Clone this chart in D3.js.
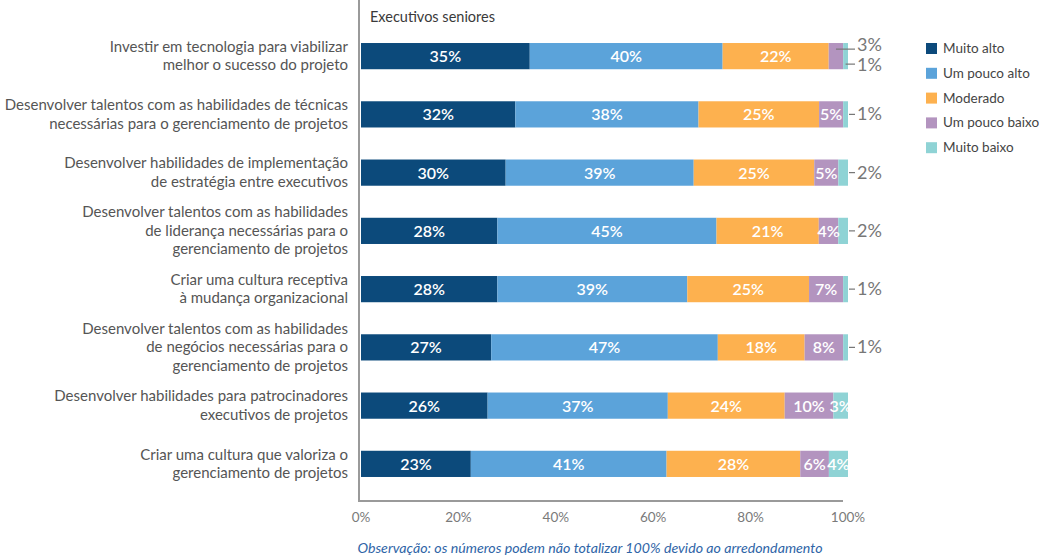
<!DOCTYPE html>
<html>
<head>
<meta charset="utf-8">
<script src="https://cdn.jsdelivr.net/npm/d3@7"></script>
<style>
  body { margin: 0; background: #fff; }
  svg { font-family: Lato, "Open Sans", sans-serif; }
</style>
</head>
<body>
<svg width="1041" height="560"></svg>
<script>
// Data
var categories = [
    ['Investir em tecnologia para viabilizar', 'melhor o sucesso do projeto'],
    ['Desenvolver talentos com as habilidades de técnicas', 'necessárias para o gerenciamento de projetos'],
    ['Desenvolver habilidades de implementação', 'de estratégia entre executivos'],
    ['Desenvolver talentos com as habilidades', 'de liderança necessárias para o', 'gerenciamento de projetos'],
    ['Criar uma cultura receptiva', 'à mudança organizacional'],
    ['Desenvolver talentos com as habilidades', 'de negócios necessárias para o', 'gerenciamento de projetos'],
    ['Desenvolver habilidades para patrocinadores', 'executivos de projetos'],
    ['Criar uma cultura que valoriza o', 'gerenciamento de projetos']
];
var seriesNames = ['Muito alto', 'Um pouco alto', 'Moderado', 'Um pouco baixo', 'Muito baixo'];
var muitoAlto    = [35, 32, 30, 28, 28, 27, 26, 23];
var umPoucoAlto  = [40, 38, 39, 45, 39, 47, 37, 41];
var moderado     = [22, 25, 25, 21, 25, 18, 24, 28];
var umPoucoBaixo = [3, 5, 5, 4, 7, 8, 10, 6];
var muitoBaixo   = [1, 1, 2, 2, 1, 1, 3, 4];
// which series labels sit outside the bar, per row
var outsideLabels = [[3, 4], [4], [4], [4], [4], [4], [], []];
var xTickValues = [0, 20, 40, 60, 80, 100];
var title = 'Executivos seniores';
var note = 'Observação: os números podem não totalizar 100% devido ao arredondamento';

var colors = ['#0c4a7b', '#5ba3da', '#fdb14f', '#b394bf', '#8fd3d5'];
var series = [muitoAlto, umPoucoAlto, moderado, umPoucoBaixo, muitoBaixo];

var svg = d3.select('svg');

var x = d3.scaleLinear().domain([0, 100]).range([361, 848]);
var y = d3.scaleBand()
    .domain(d3.range(categories.length))
    .range([27, 493])
    .paddingInner(0.55)
    .paddingOuter(0.275);
var color = d3.scaleOrdinal().domain(seriesNames).range(colors);

// Build rows of normalized segments
var rows = categories.map(function(c, i) {
    var vals = series.map(function(s) { return s[i]; });
    var total = d3.sum(vals);
    var acc = 0;
    var segs = vals.map(function(v, k) {
        var s = {row: i, k: k, value: v, x0: acc / total * 100, x1: (acc + v) / total * 100};
        acc += v;
        return s;
    });
    return {index: i, label: c, segs: segs};
});

// Axis frame
svg.append('line')
    .attr('x1', 359).attr('x2', 359)
    .attr('y1', 0).attr('y2', 501)
    .attr('stroke', '#9a9a9a').attr('stroke-width', 2);
svg.append('line')
    .attr('x1', 358).attr('x2', x(100) - 5)
    .attr('y1', 501).attr('y2', 501)
    .attr('stroke', '#9a9a9a').attr('stroke-width', 2);

// Tick labels
svg.selectAll('.tick-label')
    .data(xTickValues)
    .enter().append('text')
    .attr('class', 'tick-label')
    .attr('x', function(d) { return x(d); })
    .attr('y', 522)
    .attr('text-anchor', 'middle')
    .attr('fill', '#7a7a7a')
    .attr('font-size', 13.5)
    .text(function(d) { return d + '%'; });

// Title
svg.append('text')
    .attr('x', 370).attr('y', 22)
    .attr('fill', '#3a3a3a')
    .attr('font-size', 14.5)
    .text(title);

// Category labels
var catG = svg.selectAll('.cat')
    .data(rows)
    .enter().append('text')
    .attr('class', 'cat')
    .attr('text-anchor', 'end')
    .attr('fill', '#555')
    .attr('font-size', 15);
catG.selectAll('tspan')
    .data(function(d) {
        var n = d.label.length;
        var cy = y(d.index) + y.bandwidth() / 2;
        return d.label.map(function(l, j) { return {text: l, y: cy + (j - (n - 1) / 2) * 18.5 + 5}; });
    })
    .enter().append('tspan')
    .attr('x', 348)
    .attr('y', function(d) { return d.y; })
    .text(function(d) { return d.text; });

// Bars
var rowG = svg.selectAll('.row')
    .data(rows)
    .enter().append('g')
    .attr('class', 'row')
    .attr('transform', function(d) { return 'translate(0,' + y(d.index) + ')'; });

rowG.selectAll('rect')
    .data(function(d) { return d.segs; })
    .enter().append('rect')
    .attr('x', function(d) { return x(d.x0); })
    .attr('width', function(d) { return x(d.x1) - x(d.x0); })
    .attr('height', y.bandwidth())
    .attr('fill', function(d) { return colors[d.k]; });

// Inside labels
rowG.selectAll('.in-label')
    .data(function(d) {
        return d.segs.filter(function(s) { return outsideLabels[d.index].indexOf(s.k) < 0; });
    })
    .enter().append('text')
    .attr('class', 'in-label')
    .attr('x', function(d) { return (x(d.x0) + x(d.x1)) / 2; })
    .attr('y', y.bandwidth() / 2 + 6)
    .attr('text-anchor', 'middle')
    .attr('fill', '#fff')
    .attr('font-size', 16)
    .attr('font-weight', 600)
    .text(function(d) { return d.value + '%'; });

// Outside labels with leader lines
rows.forEach(function(r) {
    var outs = outsideLabels[r.index];
    var cy = y(r.index) + y.bandwidth() / 2;
    outs.forEach(function(k, j) {
        var s = r.segs[k];
        var ly = outs.length > 1 ? cy + (j === 0 ? -7 : 8) : cy;
        var lx0 = outs.length > 1 ? (x(s.x0) + x(s.x1)) / 2 : x(100) + 1;
        svg.append('line')
            .attr('x1', lx0).attr('x2', x(100) + 7)
            .attr('y1', ly).attr('y2', ly)
            .attr('stroke', '#777').attr('stroke-width', 1.2);
        svg.append('text')
            .attr('x', x(100) + 9)
            .attr('y', ly + (outs.length > 1 ? (j === 0 ? 2 : 7) : 6))
            .attr('fill', '#777')
            .attr('font-size', 18)
            .text(s.value + '%');
    });
});

// Legend
var legend = svg.selectAll('.legend')
    .data(seriesNames)
    .enter().append('g')
    .attr('class', 'legend')
    .attr('transform', function(d, i) { return 'translate(926,' + (43 + i * 24.8) + ')'; });
legend.append('rect')
    .attr('width', 11).attr('height', 11)
    .attr('fill', function(d) { return color(d); });
legend.append('text')
    .attr('x', 17).attr('y', 10)
    .attr('fill', '#444')
    .attr('font-size', 13.5)
    .text(function(d) { return d; });

// Note
svg.append('text')
    .attr('x', 590).attr('y', 553)
    .attr('text-anchor', 'middle')
    .attr('fill', '#2f65a7')
    .attr('font-size', 14.2)
    .attr('font-style', 'italic')
    .text(note);
</script>
</body>
</html>
